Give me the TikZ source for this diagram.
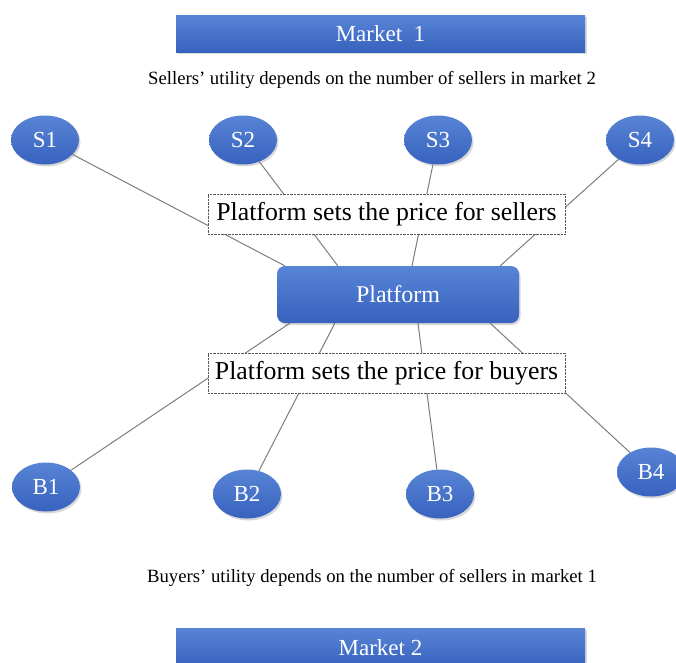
\documentclass[tikz,border=0pt]{standalone}
\usepackage{fontspec}
\setmainfont{Liberation Serif}
\usetikzlibrary{shapes.geometric,shadows,backgrounds}
\definecolor{bluetop}{RGB}{88,132,214}
\definecolor{bluebot}{RGB}{55,98,190}
\definecolor{linegray}{RGB}{125,125,125}
\tikzset{
  bluefill/.style={top color=bluetop, bottom color=bluebot, draw=none, text=white,
    drop shadow={opacity=0.3, shadow xshift=1.5pt, shadow yshift=-2pt}},
  mkt/.style={bluefill, rectangle, minimum width=409pt, minimum height=37pt, inner sep=0pt, font=\fontsize{23}{26}\selectfont},
  agent/.style={bluefill, ellipse, minimum width=68pt, minimum height=49pt, inner sep=0pt, font=\fontsize{23}{25}\selectfont},
  platbox/.style={bluefill, rectangle, rounded corners=8pt, minimum width=242pt, minimum height=57pt, inner sep=0pt, font=\fontsize{24}{26}\selectfont},
  pricebox/.style={rectangle, draw=black!65, densely dotted, fill=white, minimum width=357pt, minimum height=40pt, inner sep=0pt, font=\fontsize{25.8}{28}\selectfont},
  note/.style={inner sep=0pt, font=\fontsize{18.7}{21}\selectfont},
  link/.style={draw=linegray, line width=1pt}
}
\begin{document}
\begin{tikzpicture}[x=1pt,y=-1pt]
\useasboundingbox (0,0) rectangle (676,662);
\clip (0,0) rectangle (676,662);
\node[mkt] (m1) at (380.5,33.5) {Market\ \ 1};
\node[note] (n1) at (372,80) {Sellers' utility\ depends on the number of sellers\ in market 2};
\node[agent] (s1) at (45,140) {S1};
\node[agent] (s2) at (243,140) {S2};
\node[agent] (s3) at (438,140) {S3};
\node[agent] (s4) at (640,140) {S4};
\node[pricebox] (ps) at (386.5,214) {Platform sets the price\ for sellers};
\node[platbox] (plat) at (398,294.5) {Platform};
\node[pricebox] (pb) at (386.5,373) {Platform sets the price\ for buyers};
\node[agent] (b1) at (46,487) {B1};
\node[agent] (b2) at (247,494) {B2};
\node[agent] (b3) at (440,494) {B3};
\node[agent] (b4) at (651,472) {B4};
\node[note] (n2) at (372,578) {Buyers' utility\ depends on the number of sellers in market 1};
\node[mkt, minimum height=40pt] (m2) at (380.5,648) {Market 2};
\begin{pgfonlayer}{background}
\fill[white] (0,0) rectangle (676,662);
\draw[link] (s1) -- ([xshift=8pt]plat.north west);
\draw[link] (s2) -- ([xshift=61pt]plat.north west);
\draw[link] (s3) -- ([xshift=14pt]plat.north);
\draw[link] (s4) -- ([xshift=-19pt]plat.north east);
\draw[link] (b1) -- ([xshift=13pt]plat.south west);
\draw[link] (b2) -- ([xshift=58pt]plat.south west);
\draw[link] (b3) -- ([xshift=20pt]plat.south);
\draw[link] (b4) -- ([xshift=-29pt]plat.south east);
\end{pgfonlayer}
\end{tikzpicture}
\end{document}
